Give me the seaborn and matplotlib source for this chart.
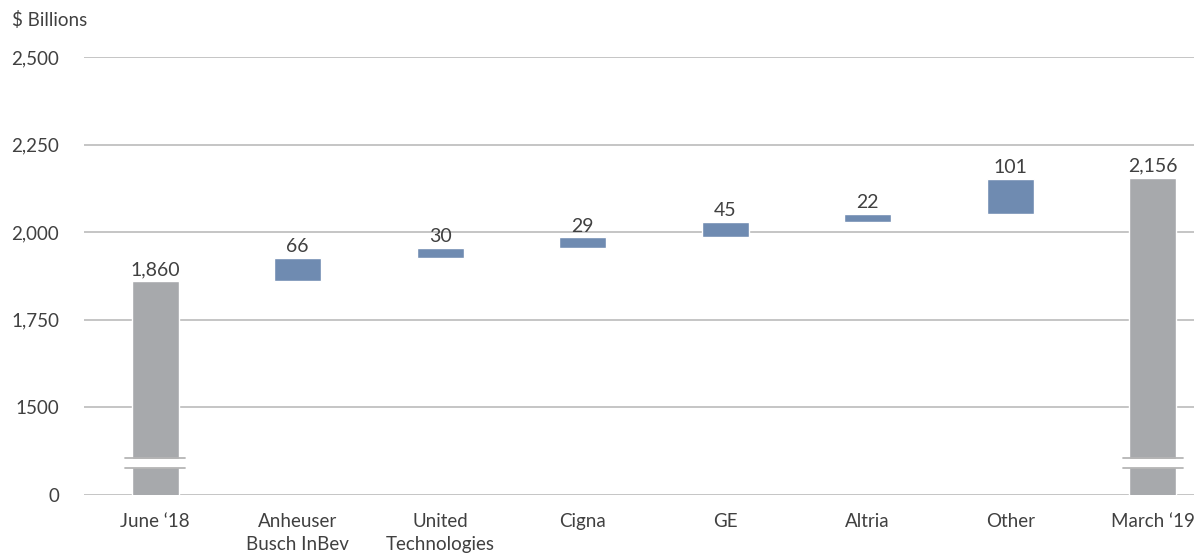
import numpy as np
import pandas as pd
import matplotlib
matplotlib.use("Agg")
import matplotlib.pyplot as plt
import seaborn as sns

# values ($ billions)
categories = ["June \u201818", "Anheuser\nBusch InBev", "United\nTechnologies", "Cigna",
              "GE", "Altria", "Other", "March \u201819"]
start_total = 1860
end_total = 2156
delta_names = ["Anheuser\nBusch InBev", "United\nTechnologies", "Cigna", "GE", "Altria", "Other"]
delta_values = [66, 30, 29, 45, 22, 101]

y_ticks = [1250, 1500, 1750, 2000, 2250, 2500]
y_ticklabels = ["0", "1500", "1,750", "2,000", "2,250", "2,500"]

GRAY = "#a7a9ac"
BLUE = "#6f8bb1"
TEXT = "#404040"
GRID = "#b5b5b5"

sns.set_theme(style="white")
plt.rcParams["font.family"] = ["Lato", "DejaVu Sans"]

totals_df = pd.DataFrame({"cat": [categories[0], categories[-1]],
                          "value": [start_total, end_total]})
bases = start_total + np.concatenate([[0], np.cumsum(delta_values)[:-1]])
deltas_df = pd.DataFrame({"cat": delta_names, "value": delta_values, "base": bases})

fig = plt.figure(figsize=(11.94, 5.54), dpi=100)
ax = fig.add_axes([84 / 1194, 59 / 554, 1 - 84 / 1194, (495 - 57) / 554])

for y in y_ticks:
    ax.axhline(y, color=GRID, lw=1.1, zorder=0)

width = 0.33
sns.barplot(data=totals_df, x="cat", y="value", order=categories, color=GRAY,
            width=width, saturation=1, ax=ax, zorder=2)
sns.barplot(data=deltas_df, x="cat", y="value", order=categories, color=BLUE,
            width=width, saturation=1, bottom=deltas_df["base"].values, ax=ax, zorder=2)

ax.set_ylim(1250, 2500)
ax.set_xlim(-0.5, 7.29)
ax.set_yticks(y_ticks)
ax.set_yticklabels(y_ticklabels)
ax.set_xlabel("")
ax.set_ylabel("")
sns.despine(ax=ax, left=True, bottom=True, top=True, right=True)
ax.tick_params(axis="y", length=0, pad=18, labelsize=13.5, labelcolor=TEXT)
ax.tick_params(axis="x", length=0, pad=13, labelsize=13.5, labelcolor=TEXT)
for lab in ax.get_xticklabels():
    lab.set_linespacing(1.4)

# value labels
for i, v in [(0, start_total), (7, end_total)]:
    ax.annotate(f"{v:,}", (i, v), xytext=(0, 2), textcoords="offset points",
                ha="center", va="bottom", fontsize=14, color=TEXT)
for name, v, b in zip(delta_names, delta_values, bases):
    i = categories.index(name)
    ax.annotate(f"{v:,}", (i, b + v), xytext=(0, 2), textcoords="offset points",
                ha="center", va="bottom", fontsize=14, color=TEXT)

# axis break markers on the total bars
for i in [0, 7]:
    ax.fill_between([i - 0.2, i + 0.2], 1330, 1353, color="white", zorder=3)
    for yb in [1327, 1356]:
        ax.plot([i - 0.21, i + 0.21], [yb, yb], color=GRID, lw=1.3, zorder=4)

fig.text(12 / 1194, 1 - 20 / 554, "$ Billions", ha="left", va="center",
         fontsize=13.5, color=TEXT)

fig.savefig("out.png", dpi=100)
